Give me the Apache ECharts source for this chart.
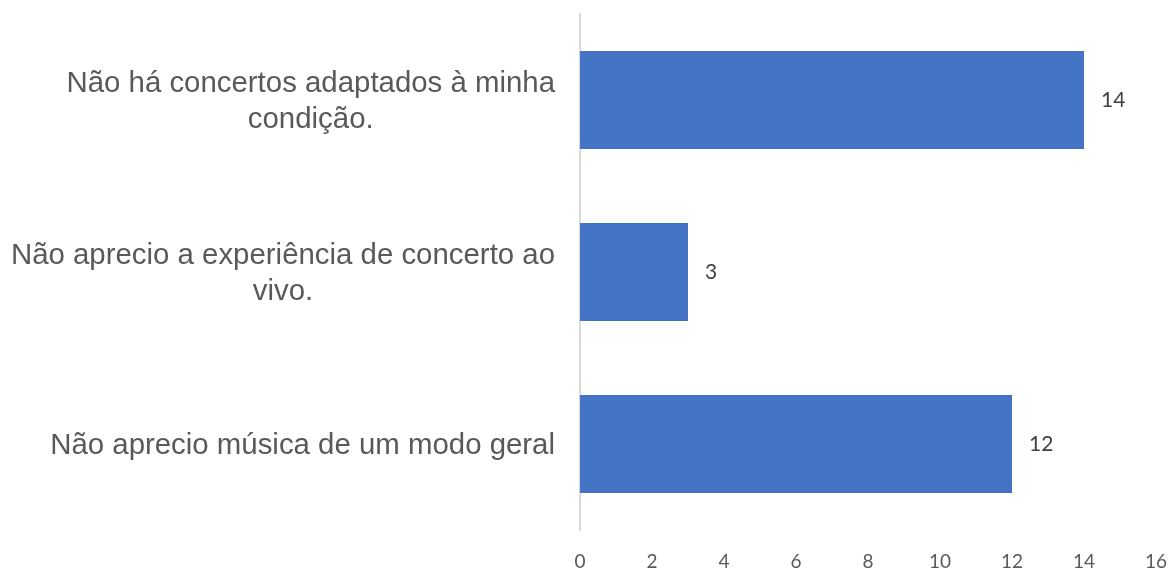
<!DOCTYPE html>
<html>
<head>
<meta charset="utf-8">
<script src="https://cdn.jsdelivr.net/npm/echarts@6/dist/echarts.min.js"></script>
<style>
  html, body { margin: 0; padding: 0; background: #fff; }
  #chart { width: 1170px; height: 572px; }
</style>
</head>
<body>
<div id="chart"></div>
<script>
// categories, top to bottom
var categories = [
  'Não há concertos adaptados à minha\ncondição.',
  'Não aprecio a experiência de concerto ao\nvivo.',
  'Não aprecio música de um modo geral'
];
var values = [14, 3, 12];
var xTicks = [0, 2, 4, 6, 8, 10, 12, 14, 16];

var chart = echarts.init(document.getElementById('chart'));

chart.setOption({
  animation: false,
  grid: { left: 580, right: 14, top: 14, bottom: 42, containLabel: false },
  xAxis: {
    type: 'value',
    min: xTicks[0],
    max: xTicks[xTicks.length - 1],
    interval: 2,
    axisLine: { show: false },
    axisTick: { show: false },
    splitLine: { show: false },
    axisLabel: {
      margin: 22,
      color: '#595959',
      fontSize: 19,
      fontFamily: 'Lato, "Open Sans", sans-serif'
    }
  },
  yAxis: {
    type: 'category',
    inverse: true,
    data: categories,
    axisLine: { show: true, lineStyle: { color: '#d9d9d9', width: 2 } },
    axisTick: { show: false },
    axisLabel: {
      margin: 25,
      align: 'right',
      // center each line of a wrapped label under its widest line
      formatter: function (v) {
        return v.split('\n').map(function (s) { return '{c|' + s + '}'; }).join('\n');
      },
      rich: {
        c: {
          align: 'center',
          color: '#595959',
          fontSize: 29.4,
          lineHeight: 36,
          padding: [3, 0, 0, 0],
          fontFamily: '"Liberation Sans", Arial, sans-serif'
        }
      }
    }
  },
  series: [
    {
      type: 'bar',
      data: values,
      barWidth: 98,
      itemStyle: { color: '#4472C4' },
      label: {
        show: true,
        position: 'right',
        distance: 17,
        color: '#404040',
        fontSize: 21,
        fontFamily: 'Lato, "Open Sans", sans-serif'
      }
    }
  ]
});
</script>
</body>
</html>
